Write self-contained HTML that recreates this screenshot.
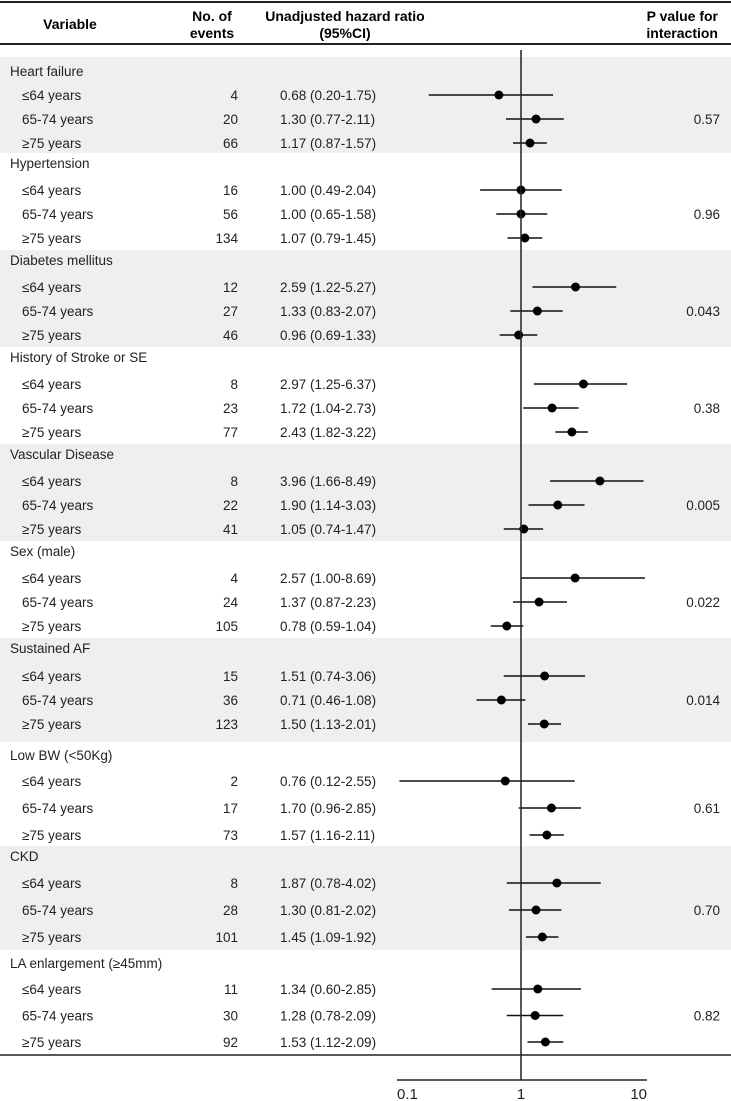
<!DOCTYPE html>
<html><head><meta charset="utf-8">
<style>
body{margin:0;background:#fff;}
svg{display:block;font-family:"Liberation Sans",Arial,sans-serif;}
</style></head>
<body>
<svg id="chart" width="731" height="1101" viewBox="0 0 731 1101" xmlns="http://www.w3.org/2000/svg">
<g id="shade"></g>
<g font-weight="bold" font-size="14" fill="#000">
<line x1="0" y1="2" x2="731" y2="2" stroke="#222" stroke-width="2"/>
<text x="70" y="29" text-anchor="middle">Variable</text>
<text x="212" y="21" text-anchor="middle">No. of</text>
<text x="212" y="38" text-anchor="middle">events</text>
<text x="345" y="21" text-anchor="middle">Unadjusted hazard ratio</text>
<text x="345" y="38" text-anchor="middle">(95%CI)</text>
<text x="718" y="21" text-anchor="end">P value for</text>
<text x="718" y="38" text-anchor="end">interaction</text>
<line x1="0" y1="44" x2="731" y2="44" stroke="#222" stroke-width="2"/>
</g>
<g id="rows" font-size="13.5" fill="#222"></g>
<g id="marks"></g>
<g id="axis"></g>
</svg>
<script>
const groups=["Heart failure","Hypertension","Diabetes mellitus","History of Stroke or SE","Vascular Disease","Sex (male)","Sustained AF","Low BW (<50Kg)","CKD","LA enlargement (≥45mm)"];
const subgroups=["≤64 years","65-74 years","≥75 years"];
const events=[[4,20,66],[16,56,134],[12,27,46],[8,23,77],[8,22,41],[4,24,105],[15,36,123],[2,17,73],[8,28,101],[11,30,92]];
const hr=[[0.68,1.30,1.17],[1.00,1.00,1.07],[2.59,1.33,0.96],[2.97,1.72,2.43],[3.96,1.90,1.05],[2.57,1.37,0.78],[1.51,0.71,1.50],[0.76,1.70,1.57],[1.87,1.30,1.45],[1.34,1.28,1.53]];
const lo=[[0.20,0.77,0.87],[0.49,0.65,0.79],[1.22,0.83,0.69],[1.25,1.04,1.82],[1.66,1.14,0.74],[1.00,0.87,0.59],[0.74,0.46,1.13],[0.12,0.96,1.16],[0.78,0.81,1.09],[0.60,0.78,1.12]];
const hi=[[1.75,2.11,1.57],[2.04,1.58,1.45],[5.27,2.07,1.33],[6.37,2.73,3.22],[8.49,3.03,1.47],[8.69,2.23,1.04],[3.06,1.08,2.01],[2.55,2.85,2.11],[4.02,2.02,1.92],[2.85,2.09,2.09]];
const pvals=["0.57","0.96","0.043","0.38","0.005","0.022","0.014","0.61","0.70","0.82"];
const ticks=[0.1,1,10];
const tickLabels=["0.1","1","10"];

const NS="http://www.w3.org/2000/svg";
function mk(tag,attrs,parent,txt){const e=document.createElementNS(NS,tag);for(const k in attrs)e.setAttribute(k,attrs[k]);if(txt!==undefined)e.textContent=txt;parent.appendChild(e);return e;}
const x=v=>521+132*Math.log10(v);
const xa=v=>521+124*Math.log10(v);
// layout constants
const gTops=[57,153,250,347,444,541,638,742,846,950,1055];
const headY=[71,163,260,357,454,551,648,755,856,963];
const rowY0=[95,190,287,384,481,578,676,781,883,989];
const rowStep=[24,24,24,24,24,24,24,27,27,26.5];
const shade=document.getElementById('shade'),rows=document.getElementById('rows'),marks=document.getElementById('marks'),axis=document.getElementById('axis');
groups.forEach((g,i)=>{
  const top=gTops[i],bot=gTops[i+1],h=bot-top;
  if(i%2===0){const r=mk('rect',{x:0,y:top,width:731,height:h,fill:'#efefef'},shade);
    }
  const t=mk('text',{x:10,y:headY[i]+5},rows,g);
  
  const ys=[0,1,2].map(j=>rowY0[i]+rowStep[i]*j);
  subgroups.forEach((s,j)=>{
    const y=ys[j];
    const a=mk('text',{x:22,y:y+5},rows,s);
    const b=mk('text',{x:238,y:y+5,'text-anchor':'end'},rows,String(events[i][j]));
    const c=mk('text',{x:280,y:y+5},rows,hr[i][j].toFixed(2)+' ('+lo[i][j].toFixed(2)+'-'+hi[i][j].toFixed(2)+')');
    const l=mk('line',{x1:x(lo[i][j]),x2:x(hi[i][j]),y1:y,y2:y,stroke:'#111','stroke-width':1.5},marks);
    const p=mk('circle',{cx:x(hr[i][j]),cy:y,r:4.5,fill:'#000'},marks);
  });
  const pv=mk('text',{x:720,y:ys[1]+5,'text-anchor':'end'},rows,pvals[i]);
});
const ref=mk('line',{x1:x(1),x2:x(1),y1:50,y2:1080,stroke:'#222','stroke-width':1.5},axis);
const br=mk('line',{x1:0,x2:731,y1:1055,y2:1055,stroke:'#222','stroke-width':1.5},axis);
const ax=mk('line',{x1:xa(ticks[0]),x2:xa(ticks[ticks.length-1])+2,y1:1080,y2:1080,stroke:'#222','stroke-width':1.5},axis);
ticks.forEach((t,k)=>{
  const anchor=k===0?'start':(k===ticks.length-1?'end':'middle');
  const tl=mk('text',{x:xa(t)+(k===ticks.length-1?2:0),y:1099,'text-anchor':anchor,'font-size':15,fill:'#222'},axis,tickLabels[k]);
  
});
</script>
</body></html>
